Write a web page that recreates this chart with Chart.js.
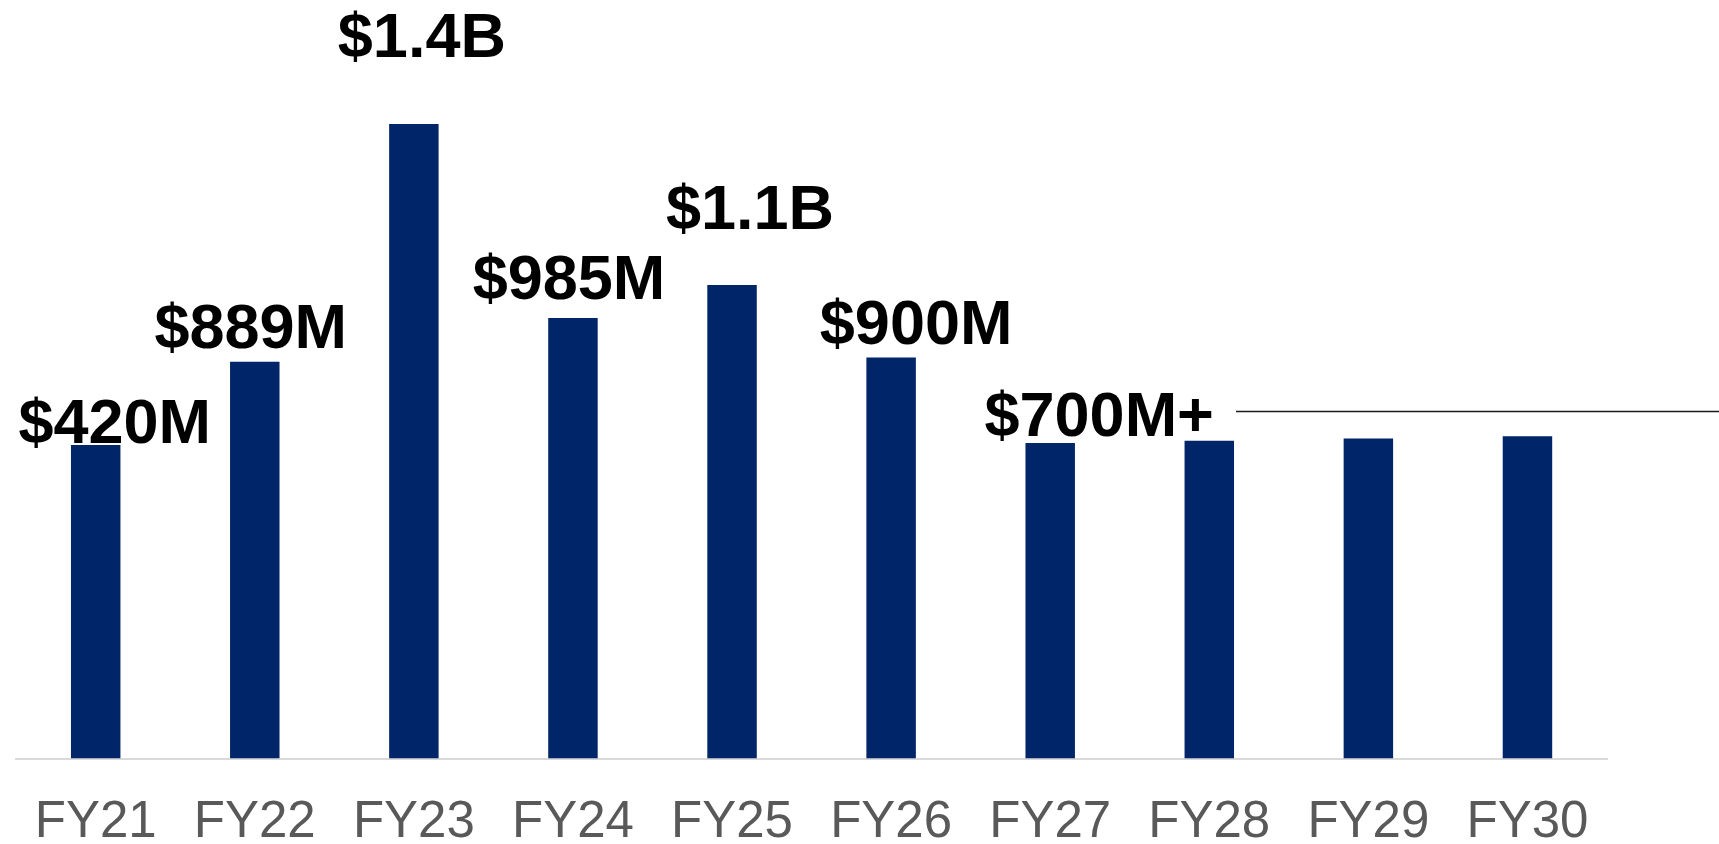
<!DOCTYPE html>
<html>
<head>
<meta charset="utf-8">
<script src="https://cdn.jsdelivr.net/npm/chart.js@4.4.1/dist/chart.umd.min.js"></script>
<style>
  html, body { margin: 0; padding: 0; background: #ffffff; }
  #wrap { width: 1719px; height: 844px; position: relative; }
</style>
</head>
<body>
<div id="wrap"><canvas id="c" width="1719" height="844"></canvas></div>
<script>
// ---- data ----
const categories = ['FY21', 'FY22', 'FY23', 'FY24', 'FY25', 'FY26', 'FY27', 'FY28', 'FY29', 'FY30'];
// bar heights as drawn (relative units; the original chart is not to scale)
const barHeights = [286, 362, 579, 402, 432, 366, 288, 290, 292, 294];
// value labels shown above bars
const valueLabels = ['$420M', '$889M', '$1.4B', '$985M', '$1.1B', '$900M', '$700M+', '', '', ''];
// level (same units as bars) at which each label's text baseline sits
const labelLevels = [288, 375, 640, 419, 483, 378, 294, 0, 0, 0];
// level of the guide line trailing the last label
const guideLevel = 317;

// ---- style ----
const labelDx = [19, -4, 8, -4, 18, 25, 49, 0, 0, 0];
const BAR_COLOR = '#002569';

const labelPlugin = {
  id: 'valueLabels',
  afterDatasetsDraw(chart) {
    const ctx = chart.ctx;
    const meta = chart.getDatasetMeta(0);
    const y = chart.scales.y;
    ctx.save();
    ctx.font = 'bold 63px "Liberation Sans", Arial, sans-serif';
    ctx.fillStyle = '#000000';
    ctx.textAlign = 'center';
    ctx.textBaseline = 'alphabetic';
    valueLabels.forEach((t, i) => {
      if (!t) return;
      const bar = meta.data[i];
      ctx.fillText(t, bar.x + labelDx[i], y.getPixelForValue(labelLevels[i]));
    });
    // guide line from FY28 bar to right edge
    const b = meta.data[7];
    const gy = Math.round(y.getPixelForValue(guideLevel)) + 0.5;
    ctx.strokeStyle = '#1a1a1a';
    ctx.lineWidth = 1.5;
    ctx.beginPath();
    ctx.moveTo(b.x + b.width / 2 + 2, gy);
    ctx.lineTo(chart.width, gy);
    ctx.stroke();
    ctx.restore();
  }
};

new Chart(document.getElementById('c'), {
  type: 'bar',
  data: {
    labels: categories,
    datasets: [{
      data: barHeights,
      backgroundColor: BAR_COLOR,
      borderWidth: 0,
      barPercentage: 0.311,
      categoryPercentage: 1.0
    }]
  },
  options: {
    responsive: false,
    animation: false,
    devicePixelRatio: 1,
    layout: { padding: { left: 15, right: 112, top: 0, bottom: 0 } },
    plugins: { legend: { display: false }, tooltip: { enabled: false } },
    scales: {
      y: { display: false, min: 0, max: 692 },
      x: {
        grid: { display: false, drawTicks: false },
        border: { display: true, color: '#d9d9d9', width: 2 },
        ticks: {
          color: '#595959',
          font: { family: '"Liberation Sans", Arial, sans-serif', size: 51 },
          padding: 34,
          maxRotation: 0,
          autoSkip: false
        },
        afterFit(scale) { scale.height = 844 - 758.6; }
      }
    }
  },
  plugins: [labelPlugin]
});
</script>
</body>
</html>
